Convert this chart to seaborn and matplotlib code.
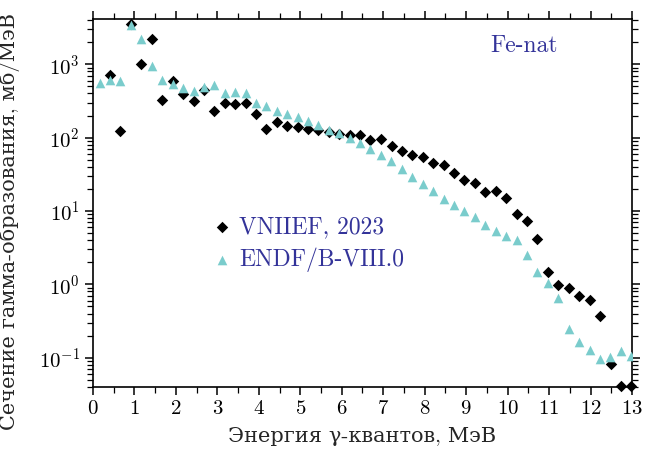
import matplotlib
matplotlib.use("Agg")
import matplotlib.pyplot as plt
import seaborn as sns
import pandas as pd
from matplotlib.ticker import LogLocator, MultipleLocator, NullFormatter

# ENDF/B-VIII.0 evaluation (MeV, mb/MeV)
energy_endf = [0.16, 0.40, 0.66, 0.91, 1.165, 1.42, 1.67, 1.92, 2.17, 2.43,
               2.68, 2.93, 3.18, 3.43, 3.68, 3.93, 4.18, 4.43, 4.69, 4.94,
               5.19, 5.43, 5.69, 5.94, 6.19, 6.44, 6.69, 6.94, 7.19, 7.45,
               7.70, 7.96, 8.21, 8.46, 8.71, 8.96, 9.21, 9.46, 9.71, 9.97,
               10.22, 10.46, 10.72, 10.97, 11.22, 11.47, 11.72, 11.98, 12.23, 12.48,
               12.73, 12.98]
xs_endf = [557, 606, 587, 3467, 2188, 939, 606, 535, 482, 429,
           491, 518, 407, 420, 412, 295, 274, 234, 211, 194,
           171, 151, 129, 114, 97.5, 83.4, 70.4, 58.3, 47.4, 37.3,
           29.3, 23.3, 18.5, 14.7, 12.2, 10.1, 8.16, 6.49, 5.35, 4.61,
           4.06, 2.54, 1.45, 1.03, 0.649, 0.248, 0.165, 0.127, 0.0948, 0.103,
           0.123, 0.104]

# VNIIEF, 2023 measurement
energy_vniief = [0.40, 0.66, 0.91, 1.165, 1.415, 1.67, 1.92, 2.18, 2.43,
                 2.68, 2.93, 3.18, 3.43, 3.68, 3.93, 4.18, 4.43, 4.69, 4.94,
                 5.19, 5.43, 5.69, 5.94, 6.19, 6.44, 6.69, 6.94, 7.20, 7.45,
                 7.70, 7.96, 8.21, 8.46, 8.71, 8.96, 9.21, 9.46, 9.71, 9.97,
                 10.22, 10.47, 10.72, 10.97, 11.22, 11.47, 11.73, 11.99, 12.24, 12.49,
                 12.74, 12.98]
xs_vniief = [724, 125, 3580, 1009, 2188, 327, 600, 399, 321,
             450, 232, 297, 292, 301, 207, 132, 161, 145, 138,
             131, 127, 120, 113, 109, 109, 91.6, 94.6, 75.9, 64.9,
             57.8, 54.8, 44.6, 42.3, 32.7, 26.4, 24.4, 17.9, 18.8, 14.9,
             9.16, 7.36, 4.12, 1.45, 0.975, 0.896, 0.692, 0.602, 0.365, 0.081,
             0.0405, 0.0405]

x_ticks = list(range(0, 14))
label_vniief = "VNIIEF, 2023"
label_endf = "ENDF/B-VIII.0"
title_text = "Fe-nat"
xlabel_text = "Энергия γ-квантов, МэВ"
ylabel_text = "Сечение гамма-образования, мб/МэВ"

sns.set_style("ticks")
plt.rcParams["font.family"] = ["cmr10", "DejaVu Serif"]
plt.rcParams["mathtext.fontset"] = "cm"
plt.rcParams["axes.formatter.use_mathtext"] = True
plt.rcParams["axes.unicode_minus"] = True

text_blue = "#333399"
tri_color = "#7ACCCC"

df_v = pd.DataFrame({"E": energy_vniief, "xs": xs_vniief})
df_e = pd.DataFrame({"E": energy_endf, "xs": xs_endf})

fig = plt.figure(figsize=(6.49, 4.51), dpi=100)
ax = fig.add_axes([0.1433, 0.1419, 0.8305, 0.816])

sns.scatterplot(data=df_v, x="E", y="xs", marker="D", color="black", s=34,
                linewidth=0, label=label_vniief, ax=ax, zorder=3, clip_on=False)
sns.scatterplot(data=df_e, x="E", y="xs", marker="^", color=tri_color, s=48,
                linewidth=0, label=label_endf, ax=ax, zorder=4)

ax.set_yscale("log")
ax.set_xlim(0, 13)
ax.set_ylim(0.0398, 4150)
ax.set_xticks(x_ticks)
ax.xaxis.set_minor_locator(MultipleLocator(0.5))
ax.yaxis.set_major_locator(LogLocator(base=10, numticks=20))
ax.yaxis.set_minor_locator(LogLocator(base=10, subs=[2, 3, 4, 5, 6, 7, 8, 9], numticks=50))
ax.yaxis.set_minor_formatter(NullFormatter())

for sp in ax.spines.values():
    sp.set_color("black")
    sp.set_linewidth(1.2)
    sp.set_visible(True)

ax.tick_params(which="both", direction="out", top=True, right=True,
               colors="black", labelsize=15)
ax.tick_params(which="major", length=6, width=1.1)
ax.tick_params(which="minor", length=4, width=0.9)

ax.set_xlabel(xlabel_text, fontsize=15, labelpad=6)
ax.set_ylabel(ylabel_text, fontsize=15)
ax.yaxis.set_label_coords(-0.135, 0.45)

ax.text(0.80, 0.927, title_text, transform=ax.transAxes, ha="center",
        va="center", fontsize=17, color=text_blue)

leg = ax.legend(loc="upper left", bbox_to_anchor=(0.195, 0.49), frameon=False,
                fontsize=17, labelcolor=text_blue, handletextpad=0.15,
                borderaxespad=0, labelspacing=0.4, handlelength=1.2)

fig.savefig("out.png", dpi=100)
